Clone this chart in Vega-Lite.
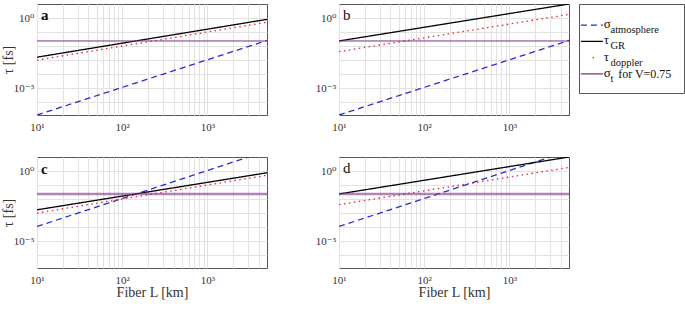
{
  "$schema": "https://vega.github.io/schema/vega-lite/v6.json",
  "background": "white",
  "padding": {"left": 0, "top": 3, "right": 2, "bottom": 2},
  "config": {
    "font": "Liberation Serif, Times New Roman, DejaVu Serif, serif",
    "view": {"stroke": "#555555", "strokeWidth": 1},
    "text": {"font": "Liberation Serif, Times New Roman, DejaVu Serif, serif"},
    "axis": {
      "gridColor": "#e2e2e2", "gridOpacity": 1, "gridWidth": 1,
      "domain": false, "ticks": false,
      "labelFont": "Liberation Serif, Times New Roman, DejaVu Serif, serif", "labelFontSize": 11, "labelColor": "#333333",
      "titleFont": "Liberation Serif, Times New Roman, DejaVu Serif, serif", "titleFontSize": 14, "titleFontWeight": "normal", "titleColor": "#333333",
      "labelOverlap": false, "labelFlush": false
    }
  },
  "datasets": {
    "lines": [
      {"panel": "a", "series": "atm", "L": 10, "tau": 1.2e-7},
      {"panel": "a", "series": "atm", "L": 5000, "tau": 0.025},
      {"panel": "a", "series": "GR", "L": 10, "tau": 0.0016},
      {"panel": "a", "series": "GR", "L": 5000, "tau": 0.8},
      {"panel": "a", "series": "dop", "L": 10, "tau": 0.001},
      {"panel": "a", "series": "dop", "L": 5000, "tau": 0.5},
      {"panel": "a", "series": "sig", "L": 10, "tau": 0.023},
      {"panel": "a", "series": "sig", "L": 5000, "tau": 0.023},
      {"panel": "b", "series": "atm", "L": 10, "tau": 1.2e-7},
      {"panel": "b", "series": "atm", "L": 5000, "tau": 0.025},
      {"panel": "b", "series": "GR", "L": 10, "tau": 0.023},
      {"panel": "b", "series": "GR", "L": 5000, "tau": 10},
      {"panel": "b", "series": "dop", "L": 10, "tau": 0.004},
      {"panel": "b", "series": "dop", "L": 5000, "tau": 1.8},
      {"panel": "b", "series": "sig", "L": 10, "tau": 0.023},
      {"panel": "b", "series": "sig", "L": 5000, "tau": 0.023},
      {"panel": "c", "series": "atm", "L": 10, "tau": 0.00011},
      {"panel": "c", "series": "atm", "L": 5000, "tau": 27},
      {"panel": "c", "series": "GR", "L": 10, "tau": 0.0017},
      {"panel": "c", "series": "GR", "L": 5000, "tau": 0.75},
      {"panel": "c", "series": "dop", "L": 10, "tau": 0.001},
      {"panel": "c", "series": "dop", "L": 5000, "tau": 0.5},
      {"panel": "c", "series": "sig", "L": 10, "tau": 0.023},
      {"panel": "c", "series": "sig", "L": 5000, "tau": 0.023},
      {"panel": "d", "series": "atm", "L": 10, "tau": 0.00011},
      {"panel": "d", "series": "atm", "L": 5000, "tau": 27},
      {"panel": "d", "series": "GR", "L": 10, "tau": 0.023},
      {"panel": "d", "series": "GR", "L": 5000, "tau": 10},
      {"panel": "d", "series": "dop", "L": 10, "tau": 0.004},
      {"panel": "d", "series": "dop", "L": 5000, "tau": 1.8},
      {"panel": "d", "series": "sig", "L": 10, "tau": 0.023},
      {"panel": "d", "series": "sig", "L": 5000, "tau": 0.023}
    ],
    "legend": [
      {"series": "atm", "sym": "σ", "sub": "atmosphere", "rest": ""},
      {"series": "GR", "sym": "τ", "sub": "GR", "rest": ""},
      {"series": "dop", "sym": "τ", "sub": "doppler", "rest": ""},
      {"series": "sig", "sym": "σ", "sub": "t", "rest": "for V=0.75"}
    ]
  },
  "spacing": 23,
  "vconcat": [
    {
      "spacing": 46,
      "hconcat": [
        {
          "width": 230, "height": 111,
          "layer": [
            {
              "data": {"name": "lines"},
              "transform": [{"filter": "datum.panel === 'a'"}],
              "mark": {"type": "line", "clip": true},
              "encoding": {
                "x": {"field": "L", "type": "quantitative", "scale": {"type": "log", "domain": [10, 5000], "nice": false},
                  "axis": {"title": null, "values": [10,20,30,40,50,60,70,80,90,100,200,300,400,500,600,700,800,900,1000,2000,3000,4000],
                    "labelExpr": "datum.value == 10 ? '10¹' : datum.value == 100 ? '10²' : datum.value == 1000 ? '10³' : ''", "labelPadding": 6}},
                "y": {"field": "tau", "type": "quantitative", "scale": {"type": "log", "domain": [1.2e-7, 10], "nice": false},
                  "axis": {"title": "τ [fs]", "titlePadding": -2, "labelPadding": 3, "values": [0.000001,0.00001,0.0001,0.001,0.01,0.1,1],
                    "labelExpr": "round(log(datum.value)/LN10) == 0 ? '10⁰' : round(log(datum.value)/LN10) == -5 ? '10⁻⁵' : ''"}},
                "color": {"field": "series", "type": "nominal", "scale": {"domain": ["atm","GR","dop","sig"], "range": ["#2b2bd0","#000000","#e02828","#7e2f8e"]}, "legend": null},
                "strokeDash": {"field": "series", "type": "nominal", "scale": {"domain": ["atm","GR","dop","sig"], "range": [[6,4],[1,0],[1.5,3.5],[1,0]]}, "legend": null},
                "strokeWidth": {"condition": {"test": "datum.series === 'sig'", "value": 1}, "value": 1.3}
              }
            },
            {
              "data": {"values": [{"label": "a"}]},
              "mark": {"type": "text", "align": "left", "baseline": "alphabetic", "dx": 4, "dy": 2, "fontSize": 15, "fontWeight": "bold", "color": "#111111"},
              "encoding": {"x": {"datum": 10, "type": "quantitative"}, "y": {"datum": 1, "type": "quantitative"}, "text": {"field": "label"}}
            }
          ]
        },
        {
          "spacing": 8,
          "hconcat": [
            {
              "width": 230, "height": 111,
              "layer": [
                {
                  "data": {"name": "lines"},
                  "transform": [{"filter": "datum.panel === 'b'"}],
                  "mark": {"type": "line", "clip": true},
                  "encoding": {
                    "x": {"field": "L", "type": "quantitative", "scale": {"type": "log", "domain": [10, 5000], "nice": false},
                      "axis": {"title": null, "values": [10,20,30,40,50,60,70,80,90,100,200,300,400,500,600,700,800,900,1000,2000,3000,4000],
                        "labelExpr": "datum.value == 10 ? '10¹' : datum.value == 100 ? '10²' : datum.value == 1000 ? '10³' : ''", "labelPadding": 6}},
                    "y": {"field": "tau", "type": "quantitative", "scale": {"type": "log", "domain": [1.2e-7, 10], "nice": false},
                      "axis": {"title": null, "labelPadding": 3, "values": [0.000001,0.00001,0.0001,0.001,0.01,0.1,1],
                        "labelExpr": "round(log(datum.value)/LN10) == 0 ? '10⁰' : round(log(datum.value)/LN10) == -5 ? '10⁻⁵' : ''"}},
                    "color": {"field": "series", "type": "nominal", "scale": {"domain": ["atm","GR","dop","sig"], "range": ["#2b2bd0","#000000","#e02828","#7e2f8e"]}, "legend": null},
                    "strokeDash": {"field": "series", "type": "nominal", "scale": {"domain": ["atm","GR","dop","sig"], "range": [[6,4],[1,0],[1.5,3.5],[1,0]]}, "legend": null},
                    "strokeWidth": {"condition": {"test": "datum.series === 'sig'", "value": 1}, "value": 1.3}
                  }
                },
                {
                  "data": {"values": [{"label": "b"}]},
                  "mark": {"type": "text", "align": "left", "baseline": "alphabetic", "dx": 4, "dy": 2, "fontSize": 15, "color": "#111111"},
                  "encoding": {"x": {"datum": 10, "type": "quantitative"}, "y": {"datum": 1, "type": "quantitative"}, "text": {"field": "label"}}
                }
              ]
            },
            {
              "width": 105, "height": 89,
              "data": {"name": "legend"},
              "encoding": {
                "y": {"field": "series", "type": "nominal", "sort": ["atm","GR","dop","sig"], "scale": {"type": "point", "domain": ["atm","GR","dop","sig"], "range": [13, 78]}, "axis": null}
              },
              "layer": [
                {
                  "transform": [{"filter": "datum.series !== 'dop'"}],
                  "mark": {"type": "rule", "strokeWidth": 1.3},
                  "encoding": {
                    "x": {"datum": 2, "type": "quantitative", "scale": {"domain": [0, 105]}, "axis": null},
                    "x2": {"datum": 25},
                    "color": {"field": "series", "type": "nominal", "scale": {"domain": ["atm","GR","dop","sig"], "range": ["#2b2bd0","#000000","#e02828","#7e2f8e"]}, "legend": null},
                    "strokeDash": {"field": "series", "type": "nominal", "scale": {"domain": ["atm","GR","dop","sig"], "range": [[6,4],[1,0],[1.5,3.5],[1,0]]}, "legend": null}
                  }
                },
                {
                  "transform": [{"filter": "datum.series === 'dop'"}],
                  "mark": {"type": "square", "size": 2, "filled": true, "opacity": 1},
                  "encoding": {
                    "x": {"datum": 15, "type": "quantitative"},
                    "color": {"field": "series", "type": "nominal", "scale": {"domain": ["atm","GR","dop","sig"], "range": ["#2b2bd0","#000000","#e02828","#7e2f8e"]}, "legend": null}
                  }
                },
                {
                  "mark": {"type": "text", "align": "left", "baseline": "middle", "fontSize": 13, "dy": -1, "color": "#111111"},
                  "encoding": {"x": {"datum": 26, "type": "quantitative"}, "text": {"field": "sym"}}
                },
                {
                  "mark": {"type": "text", "align": "left", "baseline": "middle", "fontSize": 10.5, "dy": 5, "color": "#111111"},
                  "encoding": {"x": {"datum": 33, "type": "quantitative"}, "text": {"field": "sub"}}
                },
                {
                  "mark": {"type": "text", "align": "left", "baseline": "middle", "fontSize": 12, "dy": 0, "color": "#111111"},
                  "encoding": {"x": {"datum": 41, "type": "quantitative"}, "text": {"field": "rest"}}
                }
              ]
            }
          ]
        }
      ]
    },
    {
      "spacing": 46,
      "hconcat": [
        {
          "width": 230, "height": 111,
          "layer": [
            {
              "data": {"name": "lines"},
              "transform": [{"filter": "datum.panel === 'c'"}],
              "mark": {"type": "line", "clip": true},
              "encoding": {
                "x": {"field": "L", "type": "quantitative", "scale": {"type": "log", "domain": [10, 5000], "nice": false},
                  "axis": {"title": "Fiber L [km]", "titlePadding": 0, "values": [10,20,30,40,50,60,70,80,90,100,200,300,400,500,600,700,800,900,1000,2000,3000,4000],
                    "labelExpr": "datum.value == 10 ? '10¹' : datum.value == 100 ? '10²' : datum.value == 1000 ? '10³' : ''", "labelPadding": 6}},
                "y": {"field": "tau", "type": "quantitative", "scale": {"type": "log", "domain": [1.2e-7, 10], "nice": false},
                  "axis": {"title": "τ [fs]", "titlePadding": -2, "labelPadding": 3, "values": [0.000001,0.00001,0.0001,0.001,0.01,0.1,1],
                    "labelExpr": "round(log(datum.value)/LN10) == 0 ? '10⁰' : round(log(datum.value)/LN10) == -5 ? '10⁻⁵' : ''"}},
                "color": {"field": "series", "type": "nominal", "scale": {"domain": ["atm","GR","dop","sig"], "range": ["#2b2bd0","#000000","#e02828","#7e2f8e"]}, "legend": null},
                "strokeDash": {"field": "series", "type": "nominal", "scale": {"domain": ["atm","GR","dop","sig"], "range": [[6,4],[1,0],[1.5,3.5],[1,0]]}, "legend": null},
                "strokeWidth": {"condition": {"test": "datum.series === 'sig'", "value": 2.6}, "value": 1.3},
                "opacity": {"condition": {"test": "datum.series === 'sig'", "value": 0.6}, "value": 1}
              }
            },
            {
              "data": {"values": [{"label": "c"}]},
              "mark": {"type": "text", "align": "left", "baseline": "alphabetic", "dx": 4, "dy": 3, "fontSize": 15, "fontWeight": "bold", "color": "#111111"},
              "encoding": {"x": {"datum": 10, "type": "quantitative"}, "y": {"datum": 1, "type": "quantitative"}, "text": {"field": "label"}}
            }
          ]
        },
        {
          "width": 230, "height": 111,
          "layer": [
            {
              "data": {"name": "lines"},
              "transform": [{"filter": "datum.panel === 'd'"}],
              "mark": {"type": "line", "clip": true},
              "encoding": {
                "x": {"field": "L", "type": "quantitative", "scale": {"type": "log", "domain": [10, 5000], "nice": false},
                  "axis": {"title": "Fiber L [km]", "titlePadding": 0, "values": [10,20,30,40,50,60,70,80,90,100,200,300,400,500,600,700,800,900,1000,2000,3000,4000],
                    "labelExpr": "datum.value == 10 ? '10¹' : datum.value == 100 ? '10²' : datum.value == 1000 ? '10³' : ''", "labelPadding": 6}},
                "y": {"field": "tau", "type": "quantitative", "scale": {"type": "log", "domain": [1.2e-7, 10], "nice": false},
                  "axis": {"title": null, "labelPadding": 3, "values": [0.000001,0.00001,0.0001,0.001,0.01,0.1,1],
                    "labelExpr": "round(log(datum.value)/LN10) == 0 ? '10⁰' : round(log(datum.value)/LN10) == -5 ? '10⁻⁵' : ''"}},
                "color": {"field": "series", "type": "nominal", "scale": {"domain": ["atm","GR","dop","sig"], "range": ["#2b2bd0","#000000","#e02828","#7e2f8e"]}, "legend": null},
                "strokeDash": {"field": "series", "type": "nominal", "scale": {"domain": ["atm","GR","dop","sig"], "range": [[6,4],[1,0],[1.5,3.5],[1,0]]}, "legend": null},
                "strokeWidth": {"condition": {"test": "datum.series === 'sig'", "value": 2.6}, "value": 1.3},
                "opacity": {"condition": {"test": "datum.series === 'sig'", "value": 0.6}, "value": 1}
              }
            },
            {
              "data": {"values": [{"label": "d"}]},
              "mark": {"type": "text", "align": "left", "baseline": "alphabetic", "dx": 4, "dy": 2, "fontSize": 15, "color": "#111111"},
              "encoding": {"x": {"datum": 10, "type": "quantitative"}, "y": {"datum": 1, "type": "quantitative"}, "text": {"field": "label"}}
            }
          ]
        }
      ]
    }
  ]
}
